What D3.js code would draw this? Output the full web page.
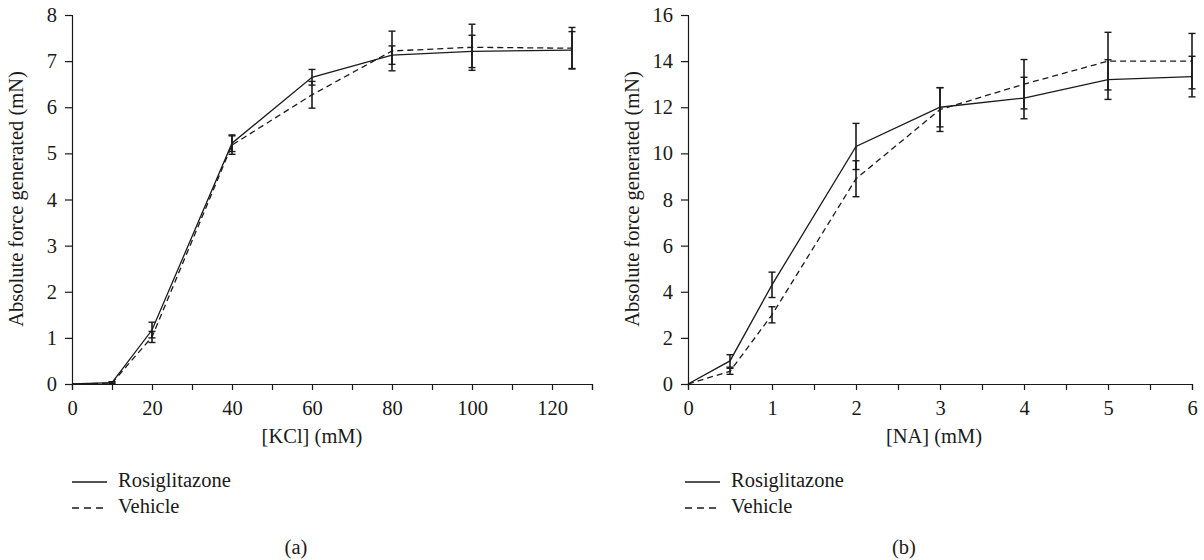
<!DOCTYPE html>
<html>
<head>
<meta charset="utf-8">
<script src="https://cdn.jsdelivr.net/npm/d3@7"></script>
<style>
  body { margin: 0; background: #fff; }
  svg { display: block; font-family: "Liberation Serif", "Times New Roman", serif; }
</style>
</head>
<body>
<div id="chart"></div>
<script>
// Panel (a): KCl dose-response
const kclDose = [0, 10, 20, 40, 60, 80, 100, 125];
const kclRosi = [0, 0.03, 1.17, 5.22, 6.65, 7.13, 7.21, 7.24];
const kclRosiErr = [0, 0.02, 0.17, 0.18, 0.17, 0.2, 0.35, 0.4];
const kclVeh = [0, 0.02, 1.02, 5.18, 6.27, 7.22, 7.3, 7.28];
const kclVehErr = [0, 0.02, 0.12, 0.2, 0.29, 0.43, 0.5, 0.45];
const kclTicks = [0, 20, 40, 60, 80, 100, 120];
const kclYTicks = [0, 1, 2, 3, 4, 5, 6, 7, 8];

// Panel (b): NA dose-response
const naDose = [0, 0.5, 1, 2, 3, 4, 5, 6];
const naRosi = [0, 1.0, 4.3, 10.3, 12.0, 12.4, 13.2, 13.33];
const naRosiErr = [0, 0.27, 0.55, 1.0, 0.85, 0.9, 0.86, 0.88];
const naVeh = [0, 0.55, 3.0, 8.9, 11.9, 13.0, 14.0, 14.0];
const naVehErr = [0, 0.13, 0.35, 0.78, 0.95, 1.07, 1.25, 1.2];
const naTicks = [0, 1, 2, 3, 4, 5, 6];
const naYTicks = [0, 2, 4, 6, 8, 10, 12, 14, 16];

const seriesNames = ['Rosiglitazone', 'Vehicle'];

const width = 1204, height = 560;
const ink = '#1a1a1a';
const fontSize = '20.5px';

const svg = d3.select('#chart')
  .append('svg')
    .attr('width', width)
    .attr('height', height);

const drawPanel = (p) => {
  const x = d3.scaleLinear().domain(p.xDomain).range(p.xRange);
  const y = d3.scaleLinear().domain(p.yDomain).range([384, 15]);

  const g = svg.append('g');

  // x axis: minor ticks every half step, labels on major ticks
  const xAxis = d3.axisBottom(x)
    .tickValues(p.minorTicks)
    .tickSize(6)
    .tickPadding(10)
    .tickFormat(d => p.xTicks.includes(d) ? d : '');
  g.append('g')
    .attr('transform', 'translate(0,384)')
    .call(xAxis)
    .call(a => a.select('.domain').attr('stroke', ink).attr('stroke-width', 1.2))
    .call(a => a.selectAll('.tick line').attr('stroke', ink).attr('stroke-width', 1.2))
    .call(a => a.selectAll('text').attr('fill', ink).style('font-size', fontSize).style('font-family', 'Liberation Serif'));

  const yAxis = d3.axisLeft(y)
    .tickValues(p.yTicks)
    .tickSize(7)
    .tickPadding(8)
    .tickFormat(d3.format('d'));
  g.append('g')
    .attr('transform', `translate(${p.xRange[0]},0)`)
    .call(yAxis)
    .call(a => a.select('.domain').attr('stroke', ink).attr('stroke-width', 1.2))
    .call(a => a.selectAll('.tick line').attr('stroke', ink).attr('stroke-width', 1.2))
    .call(a => a.selectAll('text').attr('fill', ink).style('font-size', fontSize).style('font-family', 'Liberation Serif'));

  // axis titles
  g.append('text')
    .text(p.xLabel)
    .attr('x', p.xLabelX)
    .attr('y', 438)
    .attr('text-anchor', 'middle')
    .attr('dominant-baseline', 'middle')
    .attr('fill', ink)
    .style('font-size', fontSize);

  g.append('text')
    .text('Absolute force generated (mN)')
    .attr('transform', `translate(${p.yLabelX},199) rotate(-90)`)
    .attr('text-anchor', 'middle')
    .attr('dominant-baseline', 'middle')
    .attr('fill', ink)
    .style('font-size', fontSize);

  const series = [
    { name: seriesNames[0], vals: p.rosi, err: p.rosiErr, dash: null },
    { name: seriesNames[1], vals: p.veh, err: p.vehErr, dash: '6,4' }
  ];

  const line = d3.line()
    .x(d => x(d.x))
    .y(d => y(d.v));

  series.forEach(s => {
    const pts = p.dose.map((d, i) => ({ x: d, v: s.vals[i], e: s.err[i] }));

    g.append('path')
      .datum(pts)
      .attr('d', line)
      .attr('fill', 'none')
      .attr('stroke', ink)
      .attr('stroke-width', 1.3)
      .attr('stroke-dasharray', s.dash);

    const bars = g.selectAll(null)
      .data(pts.filter(d => d.e > 0))
      .join('g');
    bars.append('line')
      .attr('x1', d => x(d.x)).attr('x2', d => x(d.x))
      .attr('y1', d => y(d.v + d.e)).attr('y2', d => y(d.v - d.e))
      .attr('stroke', ink).attr('stroke-width', 1.6);
    [1, -1].forEach(sign => {
      bars.append('line')
        .attr('x1', d => x(d.x) - 3.5).attr('x2', d => x(d.x) + 3.5)
        .attr('y1', d => y(d.v + sign * d.e)).attr('y2', d => y(d.v + sign * d.e))
        .attr('stroke', ink).attr('stroke-width', 1.4);
    });
  });

  // legend
  const legend = g.append('g')
    .attr('transform', `translate(${p.legendX},0)`);
  series.forEach((s, i) => {
    const ly = 482 + i * 26;
    legend.append('line')
      .attr('x1', 0).attr('x2', 35)
      .attr('y1', ly).attr('y2', ly)
      .attr('stroke', ink)
      .attr('stroke-width', 1.3)
      .attr('stroke-dasharray', s.dash ? '7,5' : null);
    legend.append('text')
      .text(s.name)
      .attr('x', 46)
      .attr('y', ly)
      .attr('dominant-baseline', 'middle')
      .attr('fill', ink)
      .style('font-size', fontSize);
  });

  g.append('text')
    .text(p.caption)
    .attr('x', p.captionX)
    .attr('y', 549)
    .attr('text-anchor', 'middle')
    .attr('dominant-baseline', 'middle')
    .attr('fill', ink)
    .style('font-size', fontSize);
};

drawPanel({
  dose: kclDose, rosi: kclRosi, rosiErr: kclRosiErr, veh: kclVeh, vehErr: kclVehErr,
  xDomain: [0, 130], xRange: [72, 592], yDomain: [0, 8],
  xTicks: kclTicks, minorTicks: d3.range(0, 131, 10), yTicks: kclYTicks,
  xLabel: '[KCl] (mM)', xLabelX: 312, yLabelX: 18,
  legendX: 72, caption: '(a)', captionX: 296
});

drawPanel({
  dose: naDose, rosi: naRosi, rosiErr: naRosiErr, veh: naVeh, vehErr: naVehErr,
  xDomain: [0, 6], xRange: [688, 1192], yDomain: [0, 16],
  xTicks: naTicks, minorTicks: d3.range(0, 6.01, 0.5), yTicks: naYTicks,
  xLabel: '[NA] (mM)', xLabelX: 934, yLabelX: 634,
  legendX: 685, caption: '(b)', captionX: 904
});
</script>
</body>
</html>
